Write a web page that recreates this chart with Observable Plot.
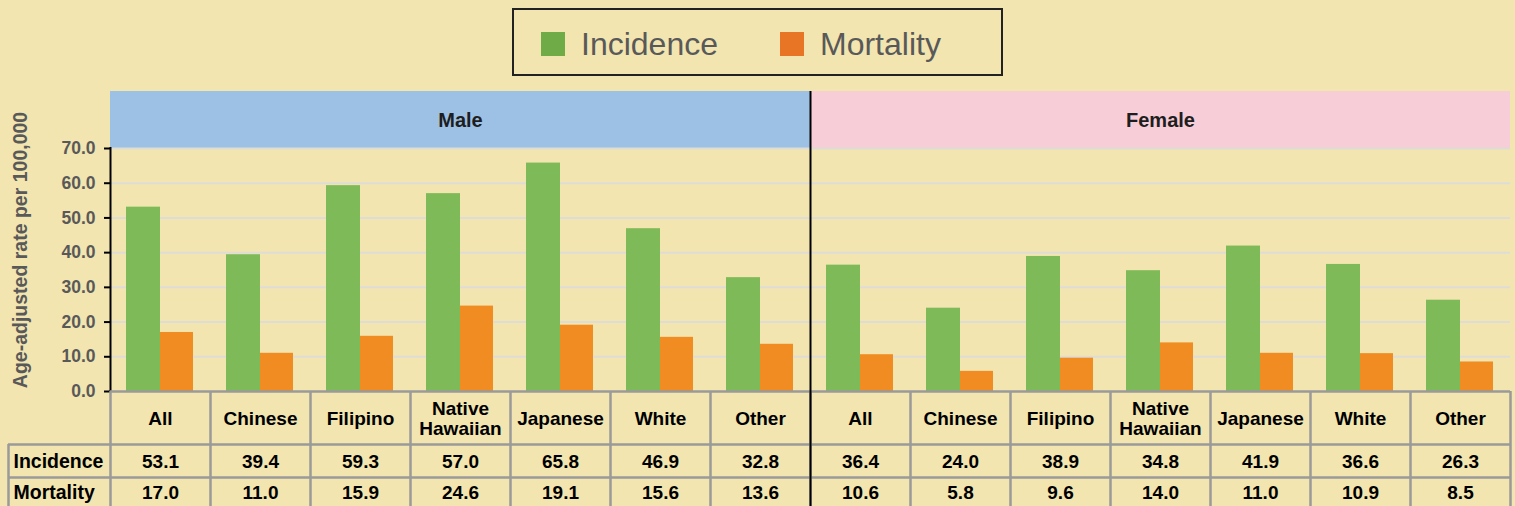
<!DOCTYPE html>
<html>
<head>
<meta charset="utf-8">
<script src="https://cdn.jsdelivr.net/npm/d3@7"></script>
<script src="https://cdn.jsdelivr.net/npm/@observablehq/plot@0.6"></script>
<style>
  html, body { margin: 0; padding: 0; background: #F2E5B0; }
  #chart { position: relative; width: 1515px; height: 506px; overflow: hidden; background: #F2E5B0;
           font-family: "Liberation Sans", Arial, sans-serif; }
  #legend { position: relative; height: 91px; }
  #legend .box { position: absolute; left: 512px; top: 8px; width: 487px; height: 64px;
                 border: 2px solid #222; box-sizing: content-box; }
  #legend .item { position: absolute; top: 2px; height: 64px; display: flex; align-items: center;
                  font-size: 32px; color: #595959; }
  #legend .sw { width: 24px; height: 24px; margin-right: 16px; }
  #chart svg { display: block; }
</style>
</head>
<body>
<div id="chart"><div id="legend"></div></div>
<script>
// ---- data ----
const sexes = ["Male", "Female"];
const groups = ["All", "Chinese", "Filipino", "Native Hawaiian", "Japanese", "White", "Other"];
const groupLabels = ["All", "Chinese", "Filipino", "Native\nHawaiian", "Japanese", "White", "Other"];
const measures = ["Incidence", "Mortality"];
const incidenceMale   = [53.1, 39.4, 59.3, 57.0, 65.8, 46.9, 32.8];
const mortalityMale   = [17.0, 11.0, 15.9, 24.6, 19.1, 15.6, 13.6];
const incidenceFemale = [36.4, 24.0, 38.9, 34.8, 41.9, 36.6, 26.3];
const mortalityFemale = [10.6, 5.8, 9.6, 14.0, 11.0, 10.9, 8.5];
const yTicks = [0, 10, 20, 30, 40, 50, 60, 70];
const yLabel = "Age-adjusted rate per 100,000";

// ---- styling ----
const colors = {Incidence: "#7FBA59", Mortality: "#F08C21"};
const legendColors = {Incidence: "#6FAB46", Mortality: "#E87426"};
const headerFill = {Male: "#9DC0E5", Female: "#F7CDD7"};
const gridColor = "#DEDCD6";
const borderColor = "#9A9A9A";
const font = "Liberation Sans, Arial, sans-serif";

// ---- table rows ----
const series = {
  Male: {Incidence: incidenceMale, Mortality: mortalityMale},
  Female: {Incidence: incidenceFemale, Mortality: mortalityFemale}
};
const rows = [];
for (const s of sexes) groups.forEach((g, i) => rows.push({
  key: s + "|" + g, sex: s, group: g, label: groupLabels[i],
  Incidence: series[s].Incidence[i], Mortality: series[s].Mortality[i]
}));
const keys = rows.map(d => d.key);

// ---- legend (HTML above the SVG) ----
const legend = document.getElementById("legend");
const box = document.createElement("div");
box.className = "box";
const legendX = {Incidence: 27, Mortality: 266};
for (const m of measures) {
  const it = document.createElement("div");
  it.className = "item";
  it.style.left = legendX[m] + "px";
  it.innerHTML = `<div class="sw" style="background:${legendColors[m]}"></div><span>${m}</span>`;
  box.appendChild(it);
}
legend.appendChild(box);

// ---- layout ----
const W = 1515, H = 415, mL = 110, mR = 5, mT = 57, mB = 115;
const bw = (W - mL - mR) / keys.length;   // 100
const frameH = H - mT - mB;               // 243
const rowSep = [53, 86];                  // table row separators below frame
const rowMid = {Incidence: 70, Mortality: 101};

const tableText = {frameAnchor: "bottom", lineAnchor: "middle", fontSize: 19, fontWeight: "bold", fill: "#000"};

const chart = Plot.plot({
  width: W, height: H,
  marginLeft: mL, marginRight: mR, marginTop: mT, marginBottom: mB,
  style: {background: "transparent", overflow: "visible", fontFamily: font},
  x: {type: "band", domain: keys, padding: 0, axis: null},
  y: {domain: [0, 70], axis: null},
  marks: [
    // panel header strips
    ...sexes.map(s => Plot.barY(rows.filter(d => d.sex === s), {
      x: "key", y1: 70, y2: 70, insetTop: -mT, fill: headerFill[s]
    })),
    Plot.text(sexes, {x: s => s + "|Native Hawaiian", text: d => d, frameAnchor: "top", lineAnchor: "middle",
      dy: -28, fontSize: 20, fontWeight: "bold", fill: "#1E1E1E"}),
    // gridlines
    Plot.ruleY(yTicks.filter(t => t > 0), {y: d => d, stroke: gridColor, strokeWidth: 2}),
    // bars
    Plot.barY(rows, {x: "key", y: "Incidence", fill: colors.Incidence, insetLeft: 16, insetRight: bw - 50}),
    Plot.barY(rows, {x: "key", y: "Mortality", fill: colors.Mortality, insetLeft: 50, insetRight: bw - 83}),
    // y axis
    Plot.ruleX([keys[0]], {x: d => d, dx: -bw / 2, stroke: "#000", strokeWidth: 2, insetTop: -1}),
    Plot.ruleY(yTicks, {y: d => d, insetLeft: -6, insetRight: W - mL - mR, stroke: "#000", strokeWidth: 2}),
    Plot.text(yTicks, {y: d => d, text: d => d.toFixed(1), frameAnchor: "left", dx: -15, textAnchor: "end",
      fontSize: 17.5, fontWeight: "bold", fill: "#595959"}),
    Plot.text([yLabel], {text: d => d, frameAnchor: "left", textAnchor: "middle", lineAnchor: "middle",
      rotate: -90, dx: -90, dy: -20, fontSize: 19.5, fontWeight: "bold", fill: "#595959"}),
    // data table borders
    Plot.ruleY([0], {y: d => d, stroke: borderColor, strokeWidth: 2.5}),
    ...rowSep.map(off => Plot.ruleY([0], {y: d => d, dy: off, stroke: borderColor, strokeWidth: 2.5, insetLeft: -102})),
    Plot.ruleX(keys, {x: d => d, dx: -bw / 2, insetTop: frameH, insetBottom: -mB, stroke: borderColor, strokeWidth: 2.5}),
    Plot.ruleX([keys[keys.length - 1]], {x: d => d, dx: bw / 2, insetTop: frameH, insetBottom: -mB, stroke: borderColor, strokeWidth: 2.5}),
    Plot.ruleX([keys[0]], {x: d => d, dx: -bw / 2 - 102, insetTop: frameH + rowSep[0], insetBottom: -mB, stroke: borderColor, strokeWidth: 2.5}),
    // divider between Male and Female
    Plot.ruleX([keys[groups.length]], {x: d => d, dx: -bw / 2, insetTop: -mT, insetBottom: -mB, stroke: "#000", strokeWidth: 2}),
    // table text
    Plot.text(rows, {x: "key", text: "label", dy: 27, lineHeight: 1.05, ...tableText}),
    ...measures.map(m => Plot.text(rows, {x: "key", text: d => d[m].toFixed(1), dy: rowMid[m], ...tableText})),
    ...measures.map(m => Plot.text([m], {text: d => d, ...tableText, frameAnchor: "bottom-left",
      dx: -97, dy: rowMid[m], textAnchor: "start", fontSize: 19.5}))
  ]
});
document.getElementById("chart").appendChild(chart);
</script>
</body>
</html>
